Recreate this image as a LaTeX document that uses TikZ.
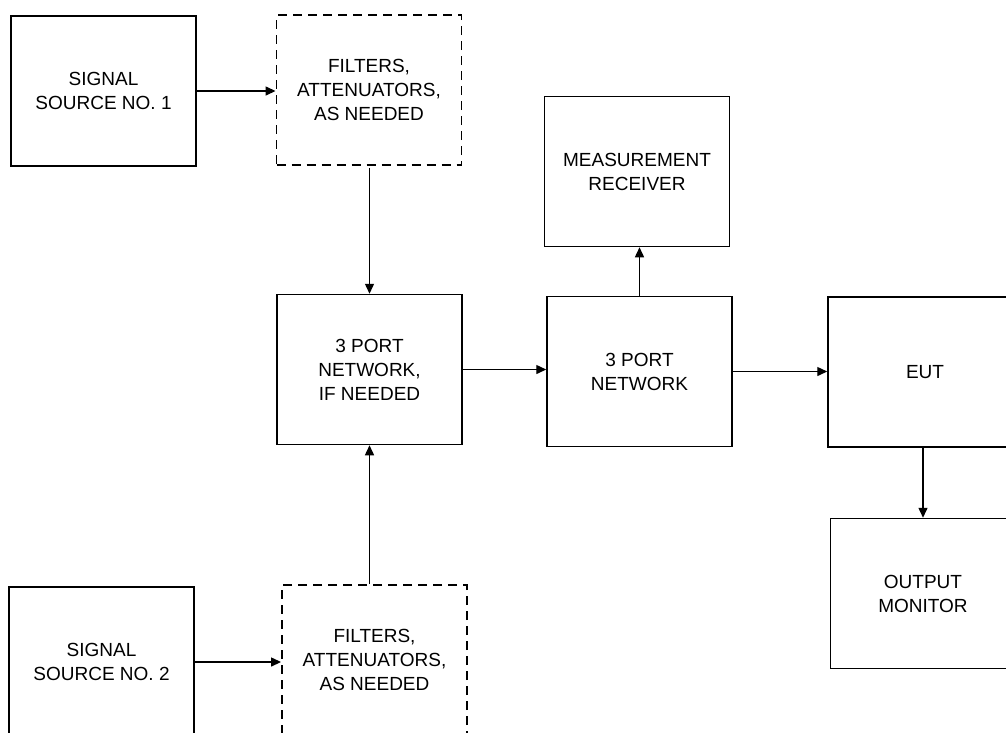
\documentclass[tikz,border=0pt]{standalone}
\usepackage{fontspec}
\setmainfont{Liberation Sans}
\usetikzlibrary{arrows.meta}
\begin{document}
\begin{tikzpicture}[x=1pt,y=-1pt,
  blk/.style={draw=black, line width=1.5pt, minimum width=185pt, minimum height=150pt,
    align=center, inner sep=0pt, font=\fontsize{19}{24}\selectfont},
  dblk/.style={blk, line width=1.9pt, dash pattern=on 9pt off 6pt},
  arr/.style={line width=1.4pt, -{Triangle[length=10pt,width=9pt]}}]
\useasboundingbox (0,0) rectangle (1006,732);
\clip (0,0) rectangle (1006,732);
\node[blk]  (ss1) at (103.5,91)  {SIGNAL\\SOURCE NO. 1};
\node[dblk] (f1)  at (369,90)    {FILTERS,\\ATTENUATORS,\\AS NEEDED};
\node[blk]  (pin) at (369.5,369.5) {3 PORT\\NETWORK,\\IF NEEDED};
\node[blk]  (pn)  at (639.5,371.5) {3 PORT\\NETWORK};
\node[blk]  (mr)  at (637,171.5) {MEASUREMENT\\RECEIVER};
\node[blk, minimum width=194pt] (eut) at (925,372) {EUT};
\node[blk]  (om)  at (923,593.5) {OUTPUT\\MONITOR};
\node[blk]  (ss2) at (101.5,662) {SIGNAL\\SOURCE NO. 2};
\node[dblk] (f2)  at (374.5,660) {FILTERS,\\ATTENUATORS,\\AS NEEDED};
\draw[arr] (ss1.east) -- (ss1.east -| f1.west);
\draw[arr, shorten <=2pt] (f1.south -| pin.north) -- (pin.north);
\draw[arr] (ss2.east) -- (ss2.east -| f2.west);
\draw[arr] (f2.north -| pin.south) -- (pin.south);
\draw[arr] (pin.east) -- (pin.east -| pn.west);
\draw[arr] (pn.north) -- (pn.north |- mr.south);
\draw[arr] (pn.east) -- (pn.east -| eut.west);
\draw[arr] (om.north |- eut.south) -- (om.north);
\end{tikzpicture}
\end{document}
